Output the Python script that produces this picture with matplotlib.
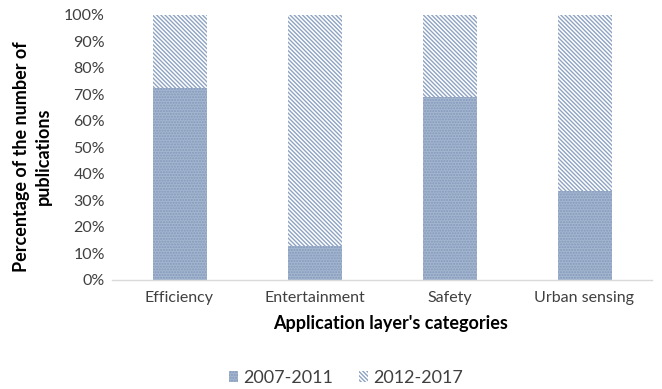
import matplotlib
matplotlib.use("Agg")
import matplotlib.pyplot as plt
from matplotlib.ticker import PercentFormatter
import numpy as np

categories = ["Efficiency", "Entertainment", "Safety", "Urban sensing"]
early = [72.4, 12.7, 69.1, 33.5]          # 2007-2011 share (%)
late = [100 - v for v in early]            # 2012-2017 share (%)
series_labels = ["2007-2011", "2012-2017"]
yticks = list(range(0, 101, 10))

plt.rcParams["font.family"] = ["Lato", "DejaVu Sans"]
plt.rcParams["hatch.linewidth"] = 1.0

fig = plt.figure(figsize=(6.62, 3.89), dpi=100)
ax = fig.add_axes([112 / 662, 1 - 279.5 / 389, 540 / 662, 264.5 / 389])

x = np.arange(len(categories))
w = 0.4
b1 = ax.bar(x, early, width=w, color="#a4b6cf", edgecolor="#8399bb",
            hatch="......", linewidth=0, label=series_labels[0])
b2 = ax.bar(x, late, width=w, bottom=early, color="white", edgecolor="#8ea3c3",
            hatch="\\" * 8, linewidth=0, label=series_labels[1])

ax.set_xlim(-0.5, len(categories) - 0.5)
ax.set_ylim(0, 100)
ax.set_yticks(yticks)
ax.yaxis.set_major_formatter(PercentFormatter(decimals=0))
ax.set_xticks(x)
ax.set_xticklabels(categories)

for s in ["top", "right", "left"]:
    ax.spines[s].set_visible(False)
ax.spines["bottom"].set_color("#d9d9d9")
ax.spines["bottom"].set_linewidth(1.0)
ax.tick_params(axis="both", length=0, labelsize=11.5, colors="#404040")
ax.tick_params(axis="y", pad=5)
ax.tick_params(axis="x", pad=8)

ax.set_xlabel("Application layer's categories", fontsize=13, fontweight="bold",
              color="black")
ax.xaxis.set_label_coords(0.515, -0.135)
ax.set_ylabel("Percentage of the number of\npublications", fontsize=13,
              fontweight="bold", color="black", linespacing=1.35)
ax.yaxis.set_label_coords(-0.112, 0.465)

leg = fig.legend(handles=[b1, b2], labels=series_labels, loc="center",
                 bbox_to_anchor=(346 / 662, 1 - 378 / 389), ncol=2, frameon=False,
                 fontsize=13, handlelength=0.5, handleheight=0.5,
                 handletextpad=0.3, columnspacing=1.4)
for t in leg.get_texts():
    t.set_color("#404040")

fig.savefig("out.png", dpi=100)
